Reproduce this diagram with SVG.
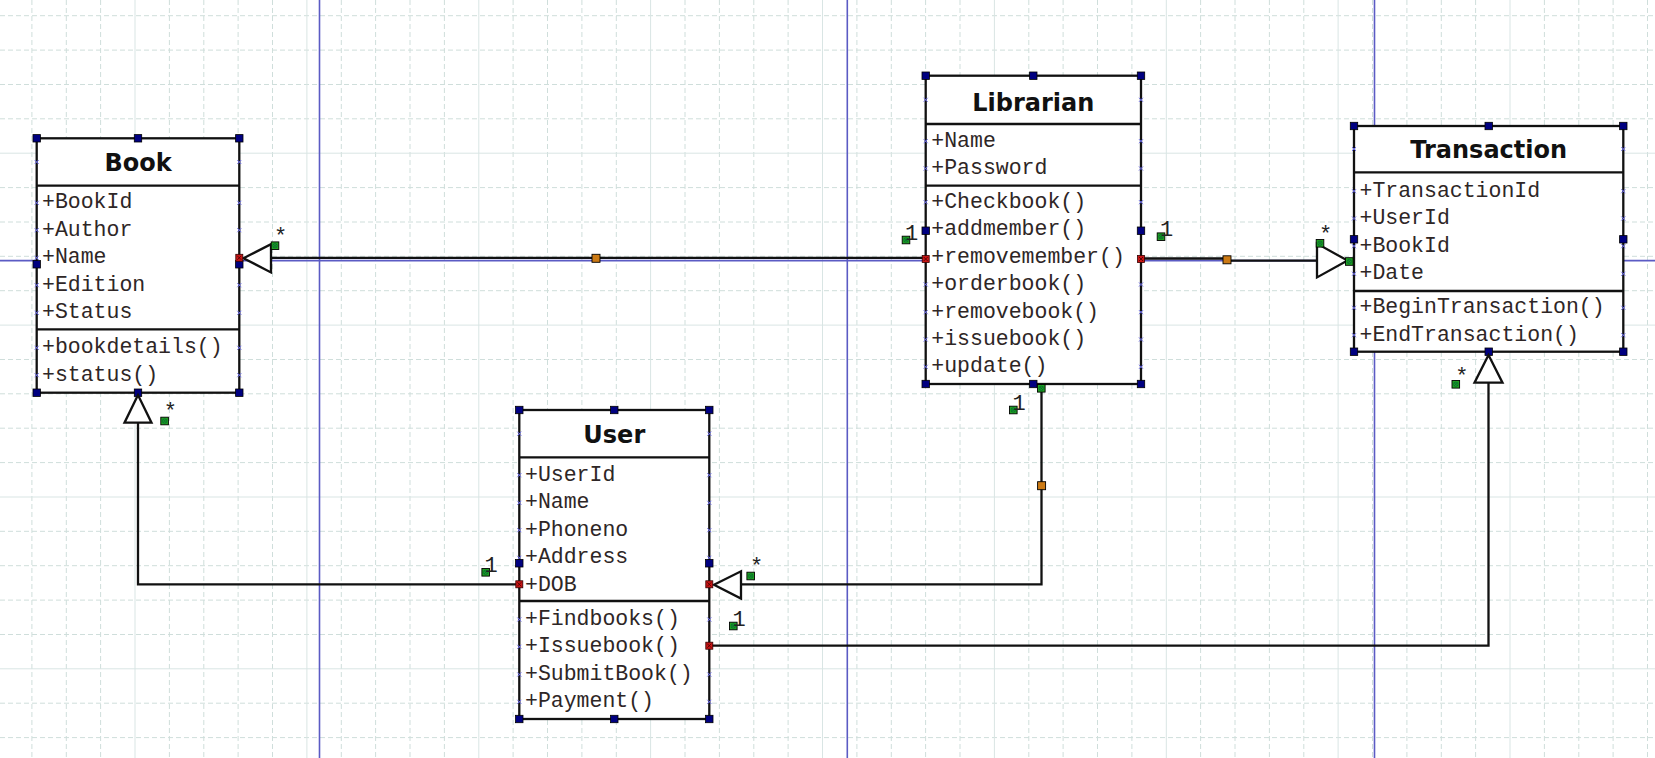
<svg xmlns="http://www.w3.org/2000/svg" xmlns:xlink="http://www.w3.org/1999/xlink" width="1655" height="758" viewBox="0 0 1655 758">
<style>
.gd{fill:none;stroke:#cfdedb;stroke-width:1;stroke-dasharray:5 3}
.gs{fill:none;stroke:#d9e5e4;stroke-width:1}
.bl{fill:none;stroke:#5b5bc4;stroke-width:1.6}
.box{fill:#fff;stroke:#111;stroke-width:2.3}
.sep{fill:none;stroke:#111;stroke-width:2.3}
.title{font-family:"DejaVu Sans",Verdana,sans-serif;font-weight:bold;font-size:24px;fill:#111;text-anchor:middle}
.mem{font-family:"Liberation Mono","Courier New",monospace;font-size:21.5px;fill:#2e2626}
.lbl{font-family:"Liberation Mono","Courier New",monospace;font-size:22px;fill:#222;text-anchor:middle}
.conn{fill:none;stroke:#111;stroke-width:2.3}
.arrow{fill:#fff;stroke:#111;stroke-width:2.3;stroke-linejoin:miter}
</style>
<defs>
<rect id="h" x="-3.7" y="-3.7" width="7.4" height="7.4" fill="#000080" stroke="#000" stroke-width="0.8"/>
<g id="r"><rect x="-3.5" y="-3.5" width="7" height="7" fill="#c81414" stroke="#300" stroke-width="0.8"/><path d="M-2-2L2 2M2-2L-2 2" stroke="#400" stroke-width="0.8"/></g>
<g id="gm"><rect x="-3.8" y="-3.8" width="7.6" height="7.6" fill="#20a020" stroke="#000" stroke-width="0.9"/><circle r="2.2" fill="none" stroke="#063" stroke-width="0.7"/><path d="M-1.6-1.6L1.6 1.6M1.6-1.6L-1.6 1.6" stroke="#063" stroke-width="0.7"/></g>
<rect id="o" x="-4" y="-4" width="8" height="8" fill="#cc7a14" stroke="#000" stroke-width="0.9"/>
<path id="xm" d="M-2-2L2 2M2-2L-2 2" stroke="#6a6ae6" stroke-width="1"/>
</defs>
<rect width="1655" height="758" fill="#fff"/>
<g id="grid">
<path class="gd" d="M31.9 0V758M66.3 0V758M100.6 0V758M169.4 0V758M203.8 0V758M238.1 0V758M272.5 0V758M341.3 0V758M375.6 0V758M410 0V758M444.4 0V758M513.1 0V758M547.5 0V758M581.9 0V758M616.3 0V758M685 0V758M719.4 0V758M753.8 0V758M788.1 0V758M856.9 0V758M891.3 0V758M925.6 0V758M960 0V758M1028.8 0V758M1063.1 0V758M1097.5 0V758M1131.9 0V758M1200.6 0V758M1235 0V758M1269.4 0V758M1303.8 0V758M1372.5 0V758M1406.9 0V758M1441.3 0V758M1475.6 0V758M1544.4 0V758M1578.8 0V758M1613.1 0V758M1647.5 0V758"/>
<path class="gd" d="M0 15.7H1655M0 50.1H1655M0 84.5H1655M0 118.8H1655M0 187.6H1655M0 222H1655M0 256.3H1655M0 290.7H1655M0 359.5H1655M0 393.8H1655M0 428.2H1655M0 462.6H1655M0 531.3H1655M0 565.7H1655M0 600.1H1655M0 634.5H1655M0 703.2H1655M0 737.6H1655"/>
<path class="gs" d="M135 0V758M306.9 0V758M478.8 0V758M650.6 0V758M822.5 0V758M994.4 0V758M1166.3 0V758M1338.1 0V758M1510 0V758M0 153.2H1655M0 325.1H1655M0 497H1655M0 668.8H1655"/>
<path class="bl" d="M319.5 0V758M847.3 0V758M1374.5 0V758M0 260.6H1655"/>
</g>
<g id="book">
<rect class="box" x="36.7" y="138.3" width="202.6" height="254.4"/>
<path class="sep" d="M36.7 185.7H239.3M36.7 329.3H239.3"/>
<text class="title" x="138" y="170.7">Book</text>
<text class="mem" x="42" y="208.3">+BookId</text>
<text class="mem" x="42" y="235.7">+Author</text>
<text class="mem" x="42" y="263.3">+Name</text>
<text class="mem" x="42" y="290.7">+Edition</text>
<text class="mem" x="42" y="318.3">+Status</text>
<text class="mem" x="42" y="353.3">+bookdetails()</text>
<text class="mem" x="42" y="380.7">+status()</text>
<use href="#xm" x="36.7" y="162"/><use href="#xm" x="36.7" y="202.8"/><use href="#xm" x="36.7" y="230.2"/><use href="#xm" x="36.7" y="257.8"/><use href="#xm" x="36.7" y="285.2"/><use href="#xm" x="36.7" y="312.8"/><use href="#xm" x="36.7" y="347.8"/><use href="#xm" x="36.7" y="375.2"/>
<use href="#xm" x="239.3" y="162"/><use href="#xm" x="239.3" y="202.8"/><use href="#xm" x="239.3" y="230.2"/><use href="#xm" x="239.3" y="285.2"/><use href="#xm" x="239.3" y="312.8"/><use href="#xm" x="239.3" y="347.8"/><use href="#xm" x="239.3" y="375.2"/>
<use href="#h" x="36.7" y="138.3"/><use href="#h" x="138" y="138.3"/><use href="#h" x="239.3" y="138.3"/><use href="#h" x="36.7" y="392.7"/><use href="#h" x="138" y="392.7"/><use href="#h" x="239.3" y="392.7"/><use href="#h" x="36.7" y="264.3"/><use href="#h" x="239.3" y="264.3"/>
</g>
<g id="librarian">
<rect class="box" x="925.7" y="75.7" width="215.3" height="308.3"/>
<path class="sep" d="M925.7 124H1141M925.7 185.7H1141"/>
<text class="title" x="1033.3" y="110.7">Librarian</text>
<text class="mem" x="931.3" y="146.7">+Name</text>
<text class="mem" x="931.3" y="174">+Password</text>
<text class="mem" x="931.3" y="207.7">+Checkbook()</text>
<text class="mem" x="931.3" y="235">+addmember()</text>
<text class="mem" x="931.3" y="262.7">+removemember()</text>
<text class="mem" x="931.3" y="290">+orderbook()</text>
<text class="mem" x="931.3" y="317.7">+removebook()</text>
<text class="mem" x="931.3" y="345">+issuebook()</text>
<text class="mem" x="931.3" y="372.3">+update()</text>
<use href="#xm" x="925.7" y="99.8"/><use href="#xm" x="925.7" y="141.2"/><use href="#xm" x="925.7" y="168.5"/><use href="#xm" x="925.7" y="202.2"/><use href="#xm" x="925.7" y="284.5"/><use href="#xm" x="925.7" y="312.2"/><use href="#xm" x="925.7" y="339.5"/><use href="#xm" x="925.7" y="366.8"/>
<use href="#xm" x="1141" y="99.8"/><use href="#xm" x="1141" y="141.2"/><use href="#xm" x="1141" y="168.5"/><use href="#xm" x="1141" y="202.2"/><use href="#xm" x="1141" y="284.5"/><use href="#xm" x="1141" y="312.2"/><use href="#xm" x="1141" y="339.5"/><use href="#xm" x="1141" y="366.8"/>
<use href="#h" x="925.7" y="75.7"/><use href="#h" x="1033.3" y="75.7"/><use href="#h" x="1141" y="75.7"/><use href="#h" x="925.7" y="384"/><use href="#h" x="1033.3" y="384"/><use href="#h" x="1141" y="384"/><use href="#h" x="925.7" y="230.7"/><use href="#h" x="1141" y="230.7"/>
</g>
<g id="transaction">
<rect class="box" x="1354" y="126" width="269.3" height="225.7"/>
<path class="sep" d="M1354 172.3H1623.3M1354 291H1623.3"/>
<text class="title" x="1488.7" y="158.3">Transaction</text>
<text class="mem" x="1359.5" y="196.7">+TransactionId</text>
<text class="mem" x="1359.5" y="224">+UserId</text>
<text class="mem" x="1359.5" y="251.7">+BookId</text>
<text class="mem" x="1359.5" y="279.3">+Date</text>
<text class="mem" x="1359.5" y="313.3">+BeginTransaction()</text>
<text class="mem" x="1359.5" y="340.7">+EndTransaction()</text>
<use href="#xm" x="1354" y="149"/><use href="#xm" x="1354" y="191.2"/><use href="#xm" x="1354" y="218.5"/><use href="#xm" x="1354" y="246.2"/><use href="#xm" x="1354" y="273.8"/><use href="#xm" x="1354" y="307.8"/><use href="#xm" x="1354" y="335.2"/>
<use href="#xm" x="1623.3" y="149"/><use href="#xm" x="1623.3" y="191.2"/><use href="#xm" x="1623.3" y="218.5"/><use href="#xm" x="1623.3" y="246.2"/><use href="#xm" x="1623.3" y="273.8"/><use href="#xm" x="1623.3" y="307.8"/><use href="#xm" x="1623.3" y="335.2"/>
<use href="#h" x="1354" y="126"/><use href="#h" x="1488.7" y="126"/><use href="#h" x="1623.3" y="126"/><use href="#h" x="1354" y="351.7"/><use href="#h" x="1488.7" y="351.7"/><use href="#h" x="1623.3" y="351.7"/><use href="#h" x="1354" y="239.3"/><use href="#h" x="1623.3" y="239.3"/>
</g>
<g id="user">
<rect class="box" x="519.3" y="410" width="190" height="309"/>
<path class="sep" d="M519.3 457.3H709.3M519.3 601H709.3"/>
<text class="title" x="614.3" y="442.7">User</text>
<text class="mem" x="525" y="480.7">+UserId</text>
<text class="mem" x="525" y="508.3">+Name</text>
<text class="mem" x="525" y="535.7">+Phoneno</text>
<text class="mem" x="525" y="563.3">+Address</text>
<text class="mem" x="525" y="590.7">+DOB</text>
<text class="mem" x="525" y="625">+Findbooks()</text>
<text class="mem" x="525" y="652.3">+Issuebook()</text>
<text class="mem" x="525" y="680">+SubmitBook()</text>
<text class="mem" x="525" y="707.3">+Payment()</text>
<use href="#xm" x="519.3" y="433.7"/><use href="#xm" x="519.3" y="475.2"/><use href="#xm" x="519.3" y="502.8"/><use href="#xm" x="519.3" y="530.2"/><use href="#xm" x="519.3" y="557.8"/><use href="#xm" x="519.3" y="619.5"/><use href="#xm" x="519.3" y="646.8"/><use href="#xm" x="519.3" y="674.5"/><use href="#xm" x="519.3" y="701.8"/>
<use href="#xm" x="709.3" y="433.7"/><use href="#xm" x="709.3" y="475.2"/><use href="#xm" x="709.3" y="502.8"/><use href="#xm" x="709.3" y="530.2"/><use href="#xm" x="709.3" y="557.8"/><use href="#xm" x="709.3" y="619.5"/><use href="#xm" x="709.3" y="674.5"/><use href="#xm" x="709.3" y="701.8"/>
<use href="#h" x="519.3" y="410"/><use href="#h" x="614.3" y="410"/><use href="#h" x="709.3" y="410"/><use href="#h" x="519.3" y="719"/><use href="#h" x="614.3" y="719"/><use href="#h" x="709.3" y="719"/><use href="#h" x="519.3" y="563.3"/><use href="#h" x="709.3" y="563.3"/>
</g>
<g id="connectors">
<path class="conn" d="M925.7 257.9H271"/>
<polygon class="arrow" points="243.5,258.2 271,244.2 271,272.4"/>
<path class="conn" d="M1141 258.5H1227V260.6H1317"/>
<polygon class="arrow" points="1347.5,260.6 1317,243.6 1317,277.4"/>
<path class="conn" d="M519.3 584.3H138V422.7"/>
<polygon class="arrow" points="138,395 124.5,422.7 151.5,422.7"/>
<path class="conn" d="M1041.5 388.3V584.3H741"/>
<polygon class="arrow" points="714,584.8 741,571.3 741,598.6"/>
<path class="conn" d="M709.3 645.7H1488.5V382.7"/>
<polygon class="arrow" points="1488.5,355 1474.5,382.7 1502.5,382.7"/>
<use href="#o" x="596" y="258.3"/><use href="#o" x="1227" y="259.8"/><use href="#o" x="1041.6" y="485.7"/>
<use href="#r" x="239.3" y="257.8"/><use href="#r" x="925.7" y="259"/><use href="#r" x="1141" y="259"/><use href="#r" x="519.3" y="584.3"/><use href="#r" x="709.3" y="584.3"/><use href="#r" x="709.3" y="645.7"/>
<use href="#gm" x="1041.3" y="388.3"/><use href="#gm" x="1349.3" y="261.5"/>
<use href="#gm" x="275" y="245.7"/><use href="#gm" x="1320" y="243.3"/><use href="#gm" x="164.6" y="421"/><use href="#gm" x="750.7" y="576"/><use href="#gm" x="1455.8" y="384.3"/>
<use href="#gm" x="906" y="240"/><use href="#gm" x="1161" y="236.7"/><use href="#gm" x="1013.3" y="410"/><use href="#gm" x="485.7" y="572.3"/><use href="#gm" x="733.3" y="626"/>
<text class="lbl" x="280.5" y="243">*</text>
<text class="lbl" x="1325.5" y="240.5">*</text>
<text class="lbl" x="170.4" y="418.3">*</text>
<text class="lbl" x="756.7" y="572.7">*</text>
<text class="lbl" x="1461.8" y="382.7">*</text>
<text class="lbl" x="911.5" y="239.5">1</text>
<text class="lbl" x="1166.5" y="236">1</text>
<text class="lbl" x="1019" y="409.5">1</text>
<text class="lbl" x="491.2" y="572">1</text>
<text class="lbl" x="739" y="625.5">1</text>
</g>
</svg>
